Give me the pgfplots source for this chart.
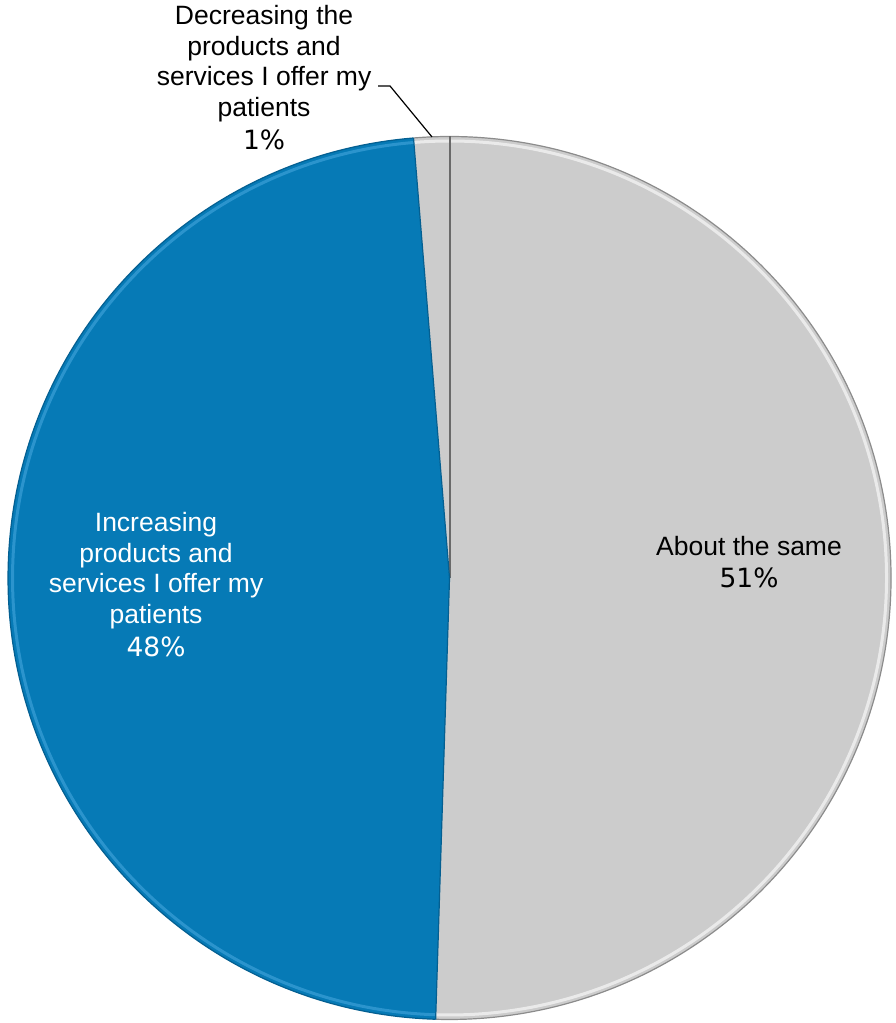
\documentclass[border=0pt]{standalone}
\usepackage{pgfplots}
\pgfplotsset{compat=1.18}
\usepackage{pgfplotstable}
\usepackage{fontspec}
\setmainfont{Liberation Sans}
\newfontfamily\pctfont{DejaVu Sans}
\definecolor{pieblue}{RGB}{6,122,182}
\definecolor{piegray}{RGB}{204,204,204}
\definecolor{edgegray}{RGB}{140,140,140}
\definecolor{divgray}{RGB}{105,105,105}
\definecolor{edgeblue}{RGB}{4,95,145}
\definecolor{rimblue}{RGB}{60,160,215}

\pgfplotstableread{
label value
Same 50.5
Increasing 48.2
Decreasing 1.3
}\piedata

\begin{document}
\begin{tikzpicture}
\pgfplotstablegetelem{0}{value}\of\piedata \let\vA\pgfplotsretval
\pgfplotstablegetelem{1}{value}\of\piedata \let\vB\pgfplotsretval
\pgfplotstablegetelem{2}{value}\of\piedata \let\vC\pgfplotsretval
\pgfmathsetmacro\aS{90}
\pgfmathsetmacro\aA{\aS-3.6*\vA}
\pgfmathsetmacro\aB{\aA-3.6*\vB}
\pgfmathsetmacro\aC{\aB-3.6*\vC}
\begin{axis}[
  scale only axis, width=892pt, height=1023pt,
  xmin=0, xmax=892, ymin=0, ymax=1023,
  hide axis, clip=false]
\path (axis cs:0,0) rectangle (axis cs:892,1023);
% slice 1: About the same
\fill[piegray] (axis cs:446.5,445) -- ++(\aS:441.5pt) arc[start angle=\aS, end angle=\aA, radius=441.5pt] -- cycle;
% slice 2: Increasing
\fill[pieblue] (axis cs:446.5,445) -- ++(\aA:441.5pt) arc[start angle=\aA, end angle=\aB, radius=441.5pt] -- cycle;
% slice 3: Decreasing
\fill[piegray] (axis cs:446.5,445) -- ++(\aB:441.5pt) arc[start angle=\aB, end angle=\aC, radius=441.5pt] -- cycle;
% bevel rims
\draw[white, opacity=0.6, line width=3pt] (axis cs:446.5,445) ++(\aS:437pt) arc[start angle=\aS, end angle=\aA, radius=437pt];
\draw[rimblue, opacity=0.7, line width=3pt] (axis cs:446.5,445) ++(\aA:437pt) arc[start angle=\aA, end angle=\aB, radius=437pt];
\draw[white, opacity=0.6, line width=3pt] (axis cs:446.5,445) ++(\aB:437pt) arc[start angle=\aB, end angle=\aC, radius=437pt];
\draw[edgegray, line width=1.2pt] (axis cs:446.5,445) ++(\aS:441.5pt) arc[start angle=\aS, end angle=\aA, radius=441.5pt];
\draw[edgeblue, line width=1.2pt] (axis cs:446.5,445) ++(\aA:441.5pt) arc[start angle=\aA, end angle=\aB, radius=441.5pt];
\draw[edgegray, line width=1.2pt] (axis cs:446.5,445) ++(\aB:441.5pt) arc[start angle=\aB, end angle=\aC, radius=441.5pt];
% dividers
\draw[divgray, line width=2pt] (axis cs:446.5,445) -- ++(\aS:441.5pt);
\draw[edgeblue, line width=1.2pt] (axis cs:446.5,445) -- ++(\aA:441.5pt);
\draw[edgeblue, line width=1.2pt] (axis cs:446.5,445) -- ++(\aB:441.5pt);
% labels
\node[align=center, font=\fontsize{26.5}{31}\selectfont, text=black] at (axis cs:746,461)
  {About the same\\[1pt]{\pctfont 51\%}};
\node[align=center, font=\fontsize{26.5}{30.5}\selectfont, text=white] at (axis cs:153,438)
  {Increasing\\products and\\services I offer my\\patients\\[3pt]{\pctfont 48\%}};
\node[align=center, font=\fontsize{26.5}{30.5}\selectfont, text=black] at (axis cs:261,945)
  {Decreasing the\\products and\\services I offer my\\patients\\[3pt]{\pctfont 1\%}};
\draw[black, line width=1.2pt] (axis cs:375,937) -- (axis cs:387,937) -- (axis cs:429,886);
\end{axis}
\end{tikzpicture}
\end{document}
